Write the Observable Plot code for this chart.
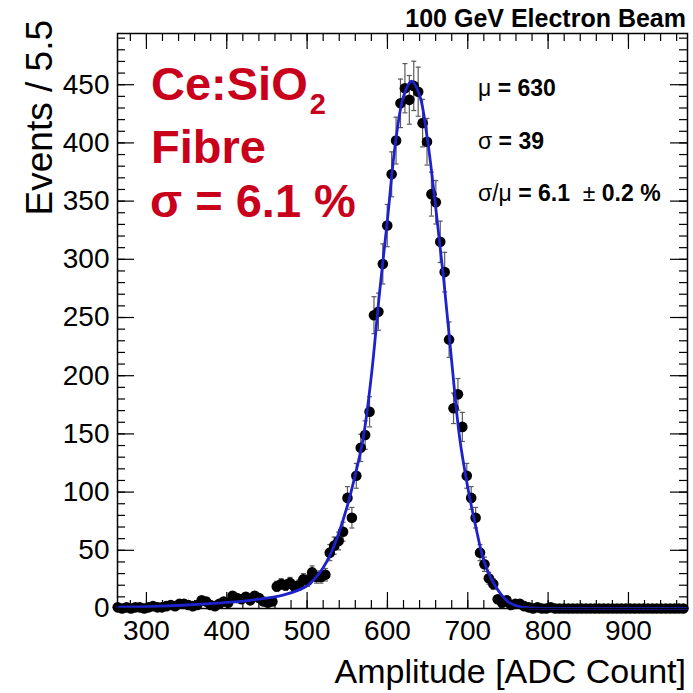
<!DOCTYPE html>
<html>
<head>
<meta charset="utf-8">
<script src="https://cdn.jsdelivr.net/npm/d3@7"></script>
<script src="https://cdn.jsdelivr.net/npm/@observablehq/plot@0.6"></script>
<style>
  html, body { margin: 0; padding: 0; background: #fff; }
</style>
</head>
<body>
<div id="chart"></div>
<script>
// Histogram binning: 129 bins of 5.5 ADC counts
const binStart = 261.5;
const binWidth = 5.5;

// Events per bin, left to right
const counts = [
  1, 0, 1, 0, 1, 1, 0, 1, 2, 1,
  1, 2, 3, 2, 4, 4, 3, 2, 3, 7,
  6, 3, 2, 4, 6, 5, 11, 9, 8, 10,
  7, 11, 9, 6, 5, 6, 19, 21, 20, 22,
  19, 20, 25, 24, 31, 27, 27, 29, 48, 54,
  58, 66, 95, 78, 114, 138, 149, 169, 252, 255,
  296, 329, 373, 402, 434, 447, 437, 449, 444, 417,
  401, 356, 349, 315, 289, 231, 172, 184, 156, 114,
  95, 78, 48, 38, 26, 21, 8, 5, 7, 3,
  4, 4, 2, 1, 0, 1, 0, 0, 1, 0,
  0, 0, 0, 0, 0, 0, 0, 0, 0, 0,
  0, 0, 0, 0, 0, 0, 0, 0, 0, 0,
  0, 0, 0, 0, 0, 0, 0, 0, 0
];

// Fitted response curve, sampled
const fitX = [264, 300, 350, 400, 440, 470, 490, 500, 510, 520, 530, 540, 550, 560, 570, 580, 590, 600, 610, 620, 630, 640, 650, 660, 670, 680, 690, 700, 710, 720, 730, 740, 750, 760, 770, 785, 820, 973.5];
const fitY = [1.2, 1.6, 3.0, 5.2, 8, 11.5, 16, 19.5, 26, 35, 48, 66, 88, 115, 147, 200, 270, 334, 400, 440, 453, 441, 402, 345, 283, 212, 146, 104, 70, 41, 24.5, 13.5, 6, 2.5, 1, 0.3, 0.1, 0.05];

// Axis ticks
const xMajor = [300, 400, 500, 600, 700, 800, 900];
const xMinor = d3.range(280, 974, 20);
const yMajor = [0, 50, 100, 150, 200, 250, 300, 350, 400, 450];
const yMinor = d3.range(0, 494, 10);

const bins = counts.map((n, i) => ({ x: binStart + binWidth * (i + 0.5), n, err: Math.sqrt(n) }));
const filled = bins.filter(d => d.n > 0);
const fit = fitX.map((x, i) => ({ x, y: fitY[i] }));

// short horizontal cap drawn at each end of an error bar
const cap = { draw(ctx) { ctx.moveTo(-2.5, 0); ctx.lineTo(2.5, 0); } };

const FONT = "'Liberation Sans', Arial, Helvetica, sans-serif";
const W = 693, H = 693, ML = 117, MR = 6, MT = 33, MB = 85;
const frameW = W - ML - MR, frameH = H - MT - MB;
const majorLen = 16, minorLen = 8;

const chart = Plot.plot({
  width: W,
  height: H,
  marginLeft: ML,
  marginRight: MR,
  marginTop: MT,
  marginBottom: MB,
  style: { fontFamily: FONT, background: "#fff", color: "#000", overflow: "visible" },
  x: { domain: [264, 973.5] },
  y: { domain: [0, 494] },
  marks: [
    // inward ticks on all four sides of the frame
    Plot.tickX(xMinor, { x: d => d, insetTop: frameH - minorLen, stroke: "#000", strokeWidth: 1.2 }),
    Plot.tickX(xMinor, { x: d => d, insetBottom: frameH - minorLen, stroke: "#000", strokeWidth: 1.2 }),
    Plot.tickX(xMajor, { x: d => d, insetTop: frameH - majorLen, stroke: "#000", strokeWidth: 1.2 }),
    Plot.tickX(xMajor, { x: d => d, insetBottom: frameH - majorLen, stroke: "#000", strokeWidth: 1.2 }),
    Plot.tickY(yMinor, { y: d => d, insetRight: frameW - minorLen, stroke: "#000", strokeWidth: 1.2 }),
    Plot.tickY(yMinor, { y: d => d, insetLeft: frameW - minorLen, stroke: "#000", strokeWidth: 1.2 }),
    Plot.tickY(yMajor, { y: d => d, insetRight: frameW - majorLen - 1, stroke: "#000", strokeWidth: 1.2 }),
    Plot.tickY(yMajor, { y: d => d, insetLeft: frameW - majorLen - 1, stroke: "#000", strokeWidth: 1.2 }),
    // tick labels
    Plot.axisX(xMajor, { anchor: "bottom", tickSize: 0, tickPadding: 12, fontSize: 28, label: null }),
    Plot.axisY(yMajor, { anchor: "left", tickSize: 0, tickPadding: 8, fontSize: 28, label: null }),
    // Poisson error bars
    Plot.ruleX(filled, { x: "x", y1: d => d.n - d.err, y2: d => d.n + d.err, stroke: "#5a5a5a", strokeWidth: 1.2 }),
    Plot.dot(filled, { x: "x", y: d => d.n + d.err, symbol: cap, stroke: "#5a5a5a", strokeWidth: 1.2, fill: "none" }),
    Plot.dot(filled, { x: "x", y: d => d.n - d.err, symbol: cap, stroke: "#5a5a5a", strokeWidth: 1.2, fill: "none" }),
    // bin contents
    Plot.dot(bins, { x: "x", y: "n", r: 5.3, fill: "#000", stroke: "none" }),
    // fit
    Plot.line(fit, { x: "x", y: "y", stroke: "#1e22cc", strokeWidth: 2.8, curve: "catmull-rom" }),
    Plot.frame({ stroke: "#000", strokeWidth: 1.5 })
  ]
});

document.getElementById("chart").appendChild(chart);

// titles and annotations
const svg = d3.select(chart);
const g = svg.append("g").attr("font-family", FONT).attr("text-anchor", "start");

g.append("text")
  .attr("x", 686).attr("y", 27)
  .attr("text-anchor", "end").attr("font-weight", "bold").attr("font-size", 25)
  .text("100 GeV Electron Beam");

g.append("text")
  .attr("x", 686).attr("y", 683)
  .attr("text-anchor", "end").attr("font-size", 34)
  .text("Amplitude [ADC Count]");

g.append("text")
  .attr("transform", "translate(52,20) rotate(-90)")
  .attr("text-anchor", "end").attr("font-size", 37)
  .text("Events / 5.5");

const red = "#c8001c";
const t1 = g.append("text").attr("x", 151).attr("y", 100).attr("text-anchor", "start")
  .attr("font-size", 47).attr("font-weight", "bold").attr("fill", red);
t1.append("tspan").text("Ce:SiO");
t1.append("tspan").attr("font-size", 29).attr("dx", 2).attr("dy", 14).text("2");

g.append("text").attr("x", 151).attr("y", 163).attr("text-anchor", "start")
  .attr("font-size", 47).attr("font-weight", "bold").attr("fill", red)
  .text("Fibre");

g.append("text").attr("x", 150).attr("y", 217).attr("text-anchor", "start")
  .attr("font-size", 47).attr("font-weight", "bold").attr("fill", red)
  .text("σ = 6.1 %");

const stat = (y, parts) => {
  const t = g.append("text").attr("x", 478).attr("y", y).attr("text-anchor", "start")
    .attr("font-size", 23).attr("font-weight", "bold");
  parts.forEach(([s, w]) => t.append("tspan").attr("font-weight", w).text(s));
};
stat(96, [["μ", "normal"], [" = 630", "bold"]]);
stat(149, [["σ", "normal"], [" = 39", "bold"]]);
stat(201, [["σ/μ", "normal"], [" = 6.1  ", "bold"], ["±", "normal"], [" 0.2 %", "bold"]]);
</script>
</body>
</html>
